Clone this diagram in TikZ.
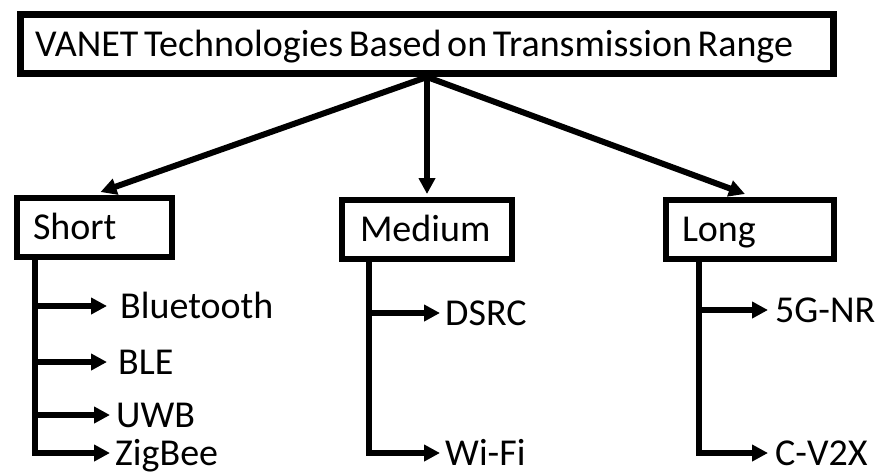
\documentclass[tikz,border=0pt]{standalone}
\usepackage{fontspec}
\setmainfont{Carlito}
\usetikzlibrary{arrows.meta}

\begin{document}
\begin{tikzpicture}[x=1pt, y=-1pt, >={Triangle[length=16pt,width=16pt]},
        box/.style={draw, line width=6pt, inner xsep=16pt, inner ysep=0pt, minimum height=59pt, align=left, text height=24pt, text depth=0pt, font=\fontsize{38}{44}\selectfont},
        leaf/.style={anchor=west, inner xsep=5pt, inner ysep=0pt, text height=24pt, text depth=0pt, font=\fontsize{38}{44}\selectfont},
        link/.style={->, line width=6pt}]
        \useasboundingbox (0,0) rectangle (875,475);
        \node[box, line width=7pt, inner xsep=14.5pt, text width=784pt] (title) at (427,44) {\spaceskip=0.15em VANET Technologies Based on Transmission Range};
        \node[box, text width=123pt] (short) at (94.5,227.5) {Short};
        \node[box, inner xsep=18pt, text width=134pt] (medium) at (427,229.5) {Medium};
        \node[box, text width=136pt] (long) at (750,229.5) {Long};
        \draw[link] (title.south) -- ([xshift=6pt,yshift=3pt]short.north);
        \draw[link] (title.south) -- ([yshift=3pt]medium.north);
        \draw[link] (title.south) -- ([xshift=-5pt,yshift=3pt]long.north);
        \node[leaf, inner xsep=13pt] (bt) at (107,306) {Bluetooth};
        \node[leaf, inner xsep=11pt] (ble) at (107,362) {BLE};
        \node[leaf, inner xsep=6pt] (uwb) at (110,415) {UWB};
        \node[leaf] (zig) at (110,453) {ZigBee};
        \node[leaf] (dsrc) at (440,313) {DSRC};
        \node[leaf] (wifi) at (440,453) {Wi-Fi};
        \node[leaf, inner xsep=7pt] (nr) at (768,310) {5G-NR};
        \node[leaf, inner xsep=7pt] (cv) at (768,453) {C-V2X};
        \coordinate (st) at ([xshift=21pt]short.south west);
        \coordinate (mt) at ([xshift=30pt]medium.south west);
        \coordinate (lt) at ([xshift=36pt]long.south west);
        \draw[link] (st) |- (zig.west);
        \foreach \n in {bt,ble,uwb}
            \draw[link] (st |- \n.west) -- (\n.west);
        \draw[link] (mt) |- (wifi.west);
        \draw[link] (mt |- dsrc.west) -- (dsrc.west);
        \draw[link] (lt) |- (cv.west);
        \draw[link] (lt |- nr.west) -- (nr.west);
    \end{tikzpicture}
\end{document}
